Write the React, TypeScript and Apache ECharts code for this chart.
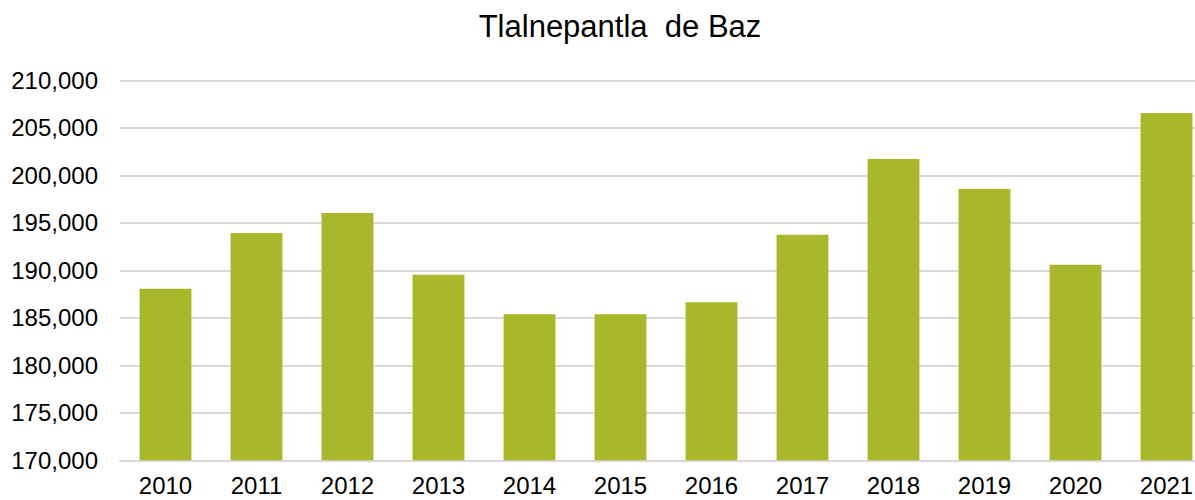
import React, { useEffect, useRef } from "react";
import * as echarts from "echarts";

const title = "Tlalnepantla  de Baz";
const years = ["2010", "2011", "2012", "2013", "2014", "2015", "2016", "2017", "2018", "2019", "2020", "2021"];
const values = [188060, 193930, 196030, 189540, 185370, 185370, 186630, 193750, 201720, 198560, 190590, 206560];

export default function App() {
  const ref = useRef<HTMLDivElement>(null);
  useEffect(() => {
    document.body.style.margin = "0";
    const chart = echarts.init(ref.current!, null, { renderer: "svg" });
    chart.setOption({
      animation: false,
      backgroundColor: "#ffffff",
      title: {
        text: title,
        left: 615,
        textAlign: "center",
        top: 6,
        textStyle: { fontFamily: "Liberation Sans", fontSize: 31, fontWeight: "normal", color: "#000" },
      },
      grid: { left: 120, right: 0, top: 80.3, bottom: 39.7, containLabel: false },
      xAxis: {
        type: "category",
        data: years,
        axisLine: { show: true, lineStyle: { color: "#d9d9d9", width: 2 } },
        axisTick: { show: false },
        axisLabel: { fontFamily: "Liberation Sans", fontSize: 24, color: "#000", margin: 13 },
      },
      yAxis: {
        type: "value",
        min: 170000,
        max: 210000,
        interval: 5000,
        axisLine: { show: false },
        axisTick: { show: false },
        splitLine: { lineStyle: { color: "#d9d9d9", width: 2 } },
        axisLabel: {
          fontFamily: "Liberation Sans",
          fontSize: 24,
          color: "#000",
          margin: 22,
          formatter: (v: number) => v.toLocaleString("en-US"),
        },
      },
      series: [
        {
          type: "bar",
          data: values,
          barWidth: "57%",
          itemStyle: { color: "#A9B82A" },
        },
      ],
    });
    return () => chart.dispose();
  }, []);
  return (
    <div style={{ width: 1195, height: 500, overflow: "hidden", position: "relative" }}>
      <div ref={ref} style={{ width: 1212, height: 500 }} />
    </div>
  );
}
